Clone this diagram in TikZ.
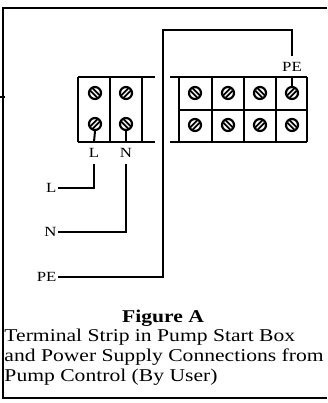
\documentclass[tikz,border=0pt]{standalone}
\usepackage{fontspec}
\setmainfont[FakeStretch=1.2]{Liberation Serif}
\tikzset{
  screwA/.style={circle, draw, line width=2.2pt, minimum size=12pt, inner sep=0pt,
    path picture={\draw[line width=5pt] (path picture bounding box.north west) -- (path picture bounding box.south east);
      \draw[white, line width=1.3pt] (path picture bounding box.north west) -- (path picture bounding box.south east);}},
  screwB/.style={circle, draw, line width=2.2pt, minimum size=12pt, inner sep=0pt,
    path picture={\draw[line width=5pt] (path picture bounding box.south west) -- (path picture bounding box.north east);
      \draw[white, line width=1.3pt] (path picture bounding box.south west) -- (path picture bounding box.north east);}},
  wirelbl/.style={font=\fontsize{14}{16}\selectfont, inner xsep=0.5pt, inner ysep=5.5pt},
  caption/.style={font=\fontsize{18}{20}\selectfont, inner sep=0pt, anchor=base west}
}
\begin{document}
\begin{tikzpicture}[x=1pt, y=-1pt, line width=2pt]
    \useasboundingbox (0,0) rectangle (327,403);
    % outer frame
    \draw[line width=2.3pt] (327,8) -- (3,8) -- (3,398) -- (327,398);
    \draw (0,97) -- (5,97);
    % left strip
    \draw (78,77) -- (155,77);
    \draw (78,142) -- (155,142);
    \foreach \x in {78,110,142} \draw (\x,77) -- (\x,142);
    % right strip
    \draw (170,77) -- (307,77);
    \draw (179,110) -- (307,110);
    \draw (170,142) -- (307,142);
    \foreach \x in {179,212,244,276,307} \draw (\x,77) -- (\x,142);
    % screws
    \foreach \i/\x in {1/95,2/126} {
      \pgfmathtruncatemacro{\p}{mod(\i,2)}
      \ifnum\p=1
        \node[screwA] (sL\i1) at (\x,93) {};
        \node[screwB] (sL\i2) at (\x,124) {};
      \else
        \node[screwB] (sL\i1) at (\x,93) {};
        \node[screwA] (sL\i2) at (\x,124) {};
      \fi
    }
    \foreach \i/\x in {1/195,2/228,3/260,4/292} {
      \pgfmathtruncatemacro{\p}{mod(\i,2)}
      \ifnum\p=1
        \node[screwA] (sR\i1) at (\x,93) {};
        \node[screwB] (sR\i2) at (\x,125) {};
      \else
        \node[screwB] (sR\i1) at (\x,93) {};
        \node[screwA] (sR\i2) at (\x,125) {};
      \fi
    }
    % wire labels
    \node[wirelbl] (tL) at (94,153) {L};
    \node[wirelbl] (tN) at (126,153) {N};
    \node[wirelbl] (tPE) at (292,67) {PE};
    \node[wirelbl, anchor=east] (wL) at (58,188) {L};
    \node[wirelbl, anchor=east] (wN) at (58,232) {N};
    \node[wirelbl, anchor=east] (wPE) at (58,277) {PE};
    \coordinate (pTop) at (163,30);
    % wires
    \draw (sL12.south) -- (tL.north);
    \draw (tL.south) |- (wL.east);
    \draw (sL22.south) -- (tN.north);
    \draw (tN.south) |- (wN.east);
    \draw (sR41.north) -- (tPE.south);
    \draw (tPE.north) |- (pTop) |- (wPE.east);
    % caption
    \node[font=\fontsize{18}{20}\selectfont\bfseries, anchor=base] (fig) at (163,322) {Figure A};
    \node[caption] (cap1) at (3.5,341) {Terminal Strip in Pump Start Box};
    \node[caption] (cap2) at (3.5,361) {and Power Supply Connections from};
    \node[caption] (cap3) at (3.5,381) {Pump Control (By User)};
\end{tikzpicture}
\end{document}
